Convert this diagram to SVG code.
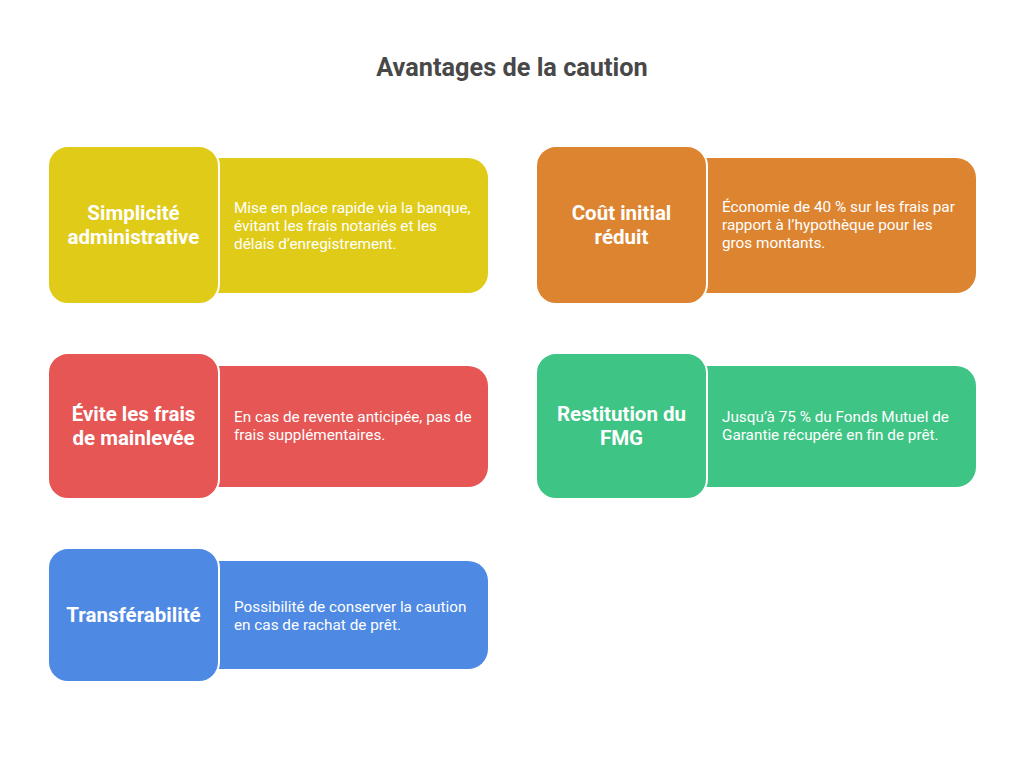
<svg xmlns="http://www.w3.org/2000/svg" width="1024" height="768" viewBox="0 0 1024 768">
<style>
.title{font-family:Roboto,"Liberation Sans",sans-serif;font-weight:700;font-size:25.3px;fill:#484848;text-anchor:middle}
.head{font-family:Roboto,"Liberation Sans",sans-serif;font-weight:700;font-size:20.5px;fill:#ffffff;text-anchor:middle}
.body{font-family:Roboto,"Liberation Sans",sans-serif;font-size:15.3px;fill:#ffffff}
.sq{stroke:#ffffff;stroke-width:2}
</style>
<rect width="1024" height="768" fill="#ffffff"/>
<text class="title" x="512" y="76">Avantages de la caution</text>
<g id="node-simplicite">
<rect x="190" y="158" width="298" height="135" rx="20" fill="#E0CB18"/>
<rect class="sq" x="48" y="146" width="171" height="158" rx="20" fill="#E0CB18"/>
<text class="head" x="133.5" y="220">Simplicité</text>
<text class="head" x="133.5" y="244">administrative</text>
<text class="body" x="234" y="213">Mise en place rapide via la banque,</text>
<text class="body" x="234" y="231">évitant les frais notariés et les</text>
<text class="body" x="234" y="249">délais d’enregistrement.</text>
</g>
<g id="node-cout">
<rect x="680" y="158" width="296" height="135" rx="20" fill="#DD8431"/>
<rect class="sq" x="536" y="146" width="171" height="158" rx="20" fill="#DD8431"/>
<text class="head" x="621.5" y="220">Coût initial</text>
<text class="head" x="621.5" y="244">réduit</text>
<text class="body" x="722" y="212">Économie de 40 % sur les frais par</text>
<text class="body" x="722" y="230">rapport à l’hypothèque pour les</text>
<text class="body" x="722" y="248">gros montants.</text>
</g>
<g id="node-mainlevee">
<rect x="190" y="366" width="298" height="121" rx="20" fill="#E55654"/>
<rect class="sq" x="48" y="353" width="171" height="146" rx="20" fill="#E55654"/>
<text class="head" x="133.5" y="421">Évite les frais</text>
<text class="head" x="133.5" y="445">de mainlevée</text>
<text class="body" x="234" y="422">En cas de revente anticipée, pas de</text>
<text class="body" x="234" y="440">frais supplémentaires.</text>
</g>
<g id="node-fmg">
<rect x="680" y="366" width="296" height="121" rx="20" fill="#3EC484"/>
<rect class="sq" x="536" y="353" width="171" height="146" rx="20" fill="#3EC484"/>
<text class="head" x="621.5" y="421">Restitution du</text>
<text class="head" x="621.5" y="445">FMG</text>
<text class="body" x="722" y="422">Jusqu’à 75 % du Fonds Mutuel de</text>
<text class="body" x="722" y="440">Garantie récupéré en fin de prêt.</text>
</g>
<g id="node-transfer">
<rect x="190" y="561" width="298" height="108" rx="20" fill="#4E89E4"/>
<rect class="sq" x="48" y="548" width="171" height="134" rx="20" fill="#4E89E4"/>
<text class="head" x="133.5" y="622">Transférabilité</text>
<text class="body" x="234" y="612">Possibilité de conserver la caution</text>
<text class="body" x="234" y="630">en cas de rachat de prêt.</text>
</g>
<g id="connectors"></g>
</svg>
